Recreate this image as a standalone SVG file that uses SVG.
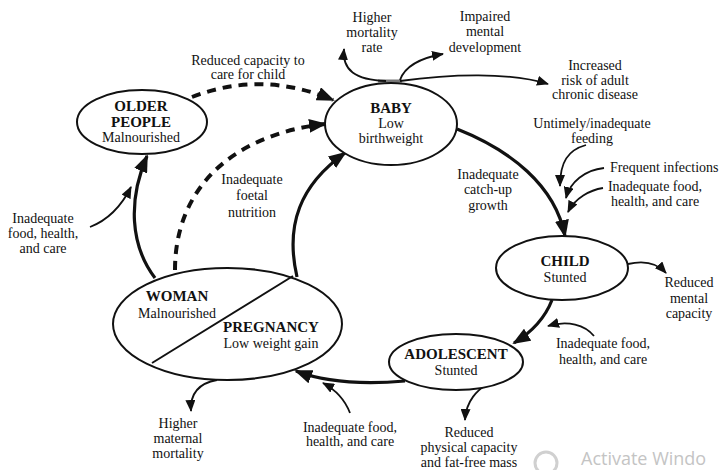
<svg xmlns="http://www.w3.org/2000/svg" width="722" height="470" viewBox="0 0 722 470">
<defs>
<style>
text{font-family:"Liberation Serif","DejaVu Serif",serif;fill:#111;text-anchor:middle}
.t{font-size:14px}
.b{font-size:15px;font-weight:bold}
.node{fill:#fff;stroke:#111;stroke-width:2}
.thick{fill:none;stroke:#111;stroke-width:3.2}
.dash{fill:none;stroke:#111;stroke-width:4;stroke-dasharray:9 7}
.thin{fill:none;stroke:#111;stroke-width:1.8}
.wm{font-family:"Open Sans","Noto Sans",sans-serif;font-size:18px;fill:#c4c4c4;text-anchor:start}
</style>
<marker id="big" markerUnits="userSpaceOnUse" markerWidth="18" markerHeight="14" refX="16" refY="7" orient="auto">
<path d="M0,0 L18,7 L0,14 Z" fill="#111"/>
</marker>
<marker id="sm" markerUnits="userSpaceOnUse" markerWidth="12" markerHeight="10" refX="11" refY="5" orient="auto">
<path d="M0,0 L12,5 L0,10 Z" fill="#111"/>
</marker>
</defs>
<rect width="722" height="470" fill="#fff"/>

<g id="connectors">
<path class="thick" d="M457,129 C510,150 555,185 565,236" marker-end="url(#big)"/>
<path class="thick" d="M552,300 C545,318 532,332 514,343" marker-end="url(#big)"/>
<path class="thick" d="M405,381 C370,384 330,384 296,371" marker-end="url(#big)"/>
<path class="thick" d="M155,278 C130,245 128,200 147,156" marker-end="url(#big)"/>
<path class="thick" d="M297,277 C285,225 300,185 345,153" marker-end="url(#big)"/>
<path class="dash" d="M192,97 Q262,70 333,100" marker-end="url(#big)"/>
<path class="dash" d="M175,270 C175,190 230,135 325,124" marker-end="url(#big)"/>
<path d="M378,81 L402,81" stroke="#777" stroke-width="3" fill="none"/>
<path class="thin" d="M386,81 C355,80 342,70 344,49" marker-end="url(#sm)"/>
<path class="thin" d="M400,80 C405,66 420,58 443,54" marker-end="url(#sm)"/>
<path class="thin" d="M400,81 C450,74 510,72 548,84" marker-end="url(#sm)"/>
<path class="thin" d="M586,145 C568,150 560,162 560,186" marker-end="url(#sm)"/>
<path class="thin" d="M604,168 C585,170 570,182 566,198" marker-end="url(#sm)"/>
<path class="thin" d="M603,188 C590,190 575,198 568,212" marker-end="url(#sm)"/>
<path class="thin" d="M628,264 C645,260 657,263 666,273" marker-end="url(#sm)"/>
<path class="thin" d="M594,336 C585,325 568,320 548,326" marker-end="url(#sm)"/>
<path class="thin" d="M488,383 C478,390 466,400 465,420" marker-end="url(#sm)"/>
<path class="thin" d="M350,413 C345,400 336,390 323,383" marker-end="url(#sm)"/>
<path class="thin" d="M217,380 C200,383 190,393 191,411" marker-end="url(#sm)"/>
<path class="thin" d="M90,227 C108,220 122,205 131,187" marker-end="url(#sm)"/>
</g>

<g id="older">
<ellipse class="node" cx="142" cy="122" rx="65" ry="32"/>
<text class="b" x="141" y="111">OLDER</text>
<text class="b" x="141" y="127">PEOPLE</text>
<text class="t" x="141" y="142">Malnourished</text>
</g>

<g id="baby">
<ellipse class="node" cx="391" cy="124" rx="66" ry="41"/>
<text class="b" x="391" y="113">BABY</text>
<text class="t" x="391" y="128">Low</text>
<text class="t" x="391" y="143">birthweight</text>
</g>

<g id="child">
<ellipse class="node" cx="562" cy="268" rx="66" ry="32"/>
<text class="b" x="565" y="266">CHILD</text>
<text class="t" x="565" y="282">Stunted</text>
</g>

<g id="adolescent">
<ellipse class="node" cx="456" cy="362" rx="67" ry="28"/>
<text class="b" x="456" y="359">ADOLESCENT</text>
<text class="t" x="456" y="375">Stunted</text>
</g>

<g id="woman-pregnancy">
<ellipse class="node" cx="227.5" cy="324" rx="114.5" ry="56"/>
<line x1="152" y1="363" x2="293" y2="276" stroke="#111" stroke-width="2"/>
<text class="b" x="177" y="301">WOMAN</text>
<text class="t" x="177" y="318">Malnourished</text>
<text class="b" x="271" y="332">PREGNANCY</text>
<text class="t" x="271" y="348">Low weight gain</text>
</g>

<g id="labels">
<text class="t" x="248" y="65">Reduced capacity to</text>
<text class="t" x="248" y="79">care for child</text>
<text class="t" x="372" y="22">Higher</text>
<text class="t" x="372" y="37">mortality</text>
<text class="t" x="372" y="52">rate</text>
<text class="t" x="485" y="21">Impaired</text>
<text class="t" x="485" y="36">mental</text>
<text class="t" x="485" y="52">development</text>
<text class="t" x="595" y="70">Increased</text>
<text class="t" x="595" y="85">risk of adult</text>
<text class="t" x="595" y="99">chronic disease</text>
<text class="t" x="592" y="128">Untimely/inadequate</text>
<text class="t" x="592" y="143">feeding</text>
<text class="t" x="610" y="172" style="text-anchor:start">Frequent infections</text>
<text class="t" x="655" y="191">Inadequate food,</text>
<text class="t" x="655" y="206">health, and care</text>
<text class="t" x="488" y="179">Inadequate</text>
<text class="t" x="488" y="194">catch-up</text>
<text class="t" x="488" y="210">growth</text>
<text class="t" x="689" y="287">Reduced</text>
<text class="t" x="689" y="303">mental</text>
<text class="t" x="689" y="318">capacity</text>
<text class="t" x="603" y="348">Inadequate food,</text>
<text class="t" x="603" y="364">health, and care</text>
<text class="t" x="469" y="437">Reduced</text>
<text class="t" x="469" y="452">physical capacity</text>
<text class="t" x="469" y="467">and fat-free mass</text>
<text class="t" x="350" y="432">Inadequate food,</text>
<text class="t" x="350" y="446">health, and care</text>
<text class="t" x="178" y="428">Higher</text>
<text class="t" x="178" y="443">maternal</text>
<text class="t" x="178" y="458">mortality</text>
<text class="t" x="43" y="223">Inadequate</text>
<text class="t" x="43" y="238">food, health,</text>
<text class="t" x="43" y="253">and care</text>
<text class="t" x="252" y="184">Inadequate</text>
<text class="t" x="252" y="200">foetal</text>
<text class="t" x="252" y="217">nutrition</text>
</g>

<g id="watermark">
<circle cx="546" cy="463" r="11" fill="none" stroke="#d0d0d0" stroke-width="3"/>
<text class="wm" x="581" y="465">Activate Windo</text>
</g>
</svg>
